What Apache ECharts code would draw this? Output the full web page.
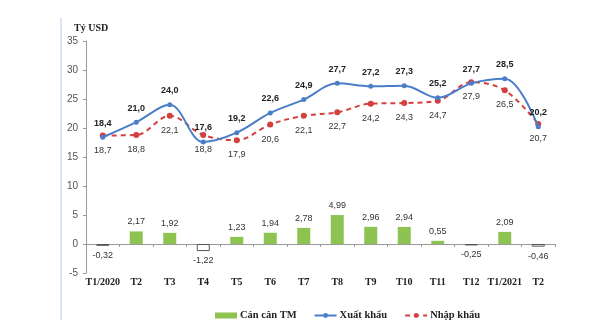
<!DOCTYPE html>
<html><head><meta charset="utf-8">
<script src="https://cdn.jsdelivr.net/npm/echarts@6/dist/echarts.min.js"></script>
<style>html,body{margin:0;padding:0;background:#fff}#c{width:595px;height:334px}</style>
</head><body><div id="c"></div>
<script>
const categories = ["T1/2020","T2","T3","T4","T5","T6","T7","T8","T9","T10","T11","T12","T1/2021","T2"];
const balance = [-0.32, 2.17, 1.92, -1.22, 1.23, 1.94, 2.78, 4.99, 2.96, 2.94, 0.55, -0.25, 2.09, -0.46];
const exportsV = [18.4, 21.0, 24.0, 17.6, 19.2, 22.6, 24.9, 27.7, 27.2, 27.3, 25.2, 27.7, 28.5, 20.2];
const importsV = [18.7, 18.8, 22.1, 18.8, 17.9, 20.6, 22.1, 22.7, 24.2, 24.3, 24.7, 27.9, 26.5, 20.7];
const yTicks = [-5, 0, 5, 10, 15, 20, 25, 30, 35];

const fmt = v => v.toFixed(1).replace('.', ',');
const fmt2 = v => v.toFixed(2).replace('.', ',');
const chart = echarts.init(document.getElementById('c'), null, {renderer:'canvas'});
chart.setOption({
  animation:false,
  backgroundColor:'#fff',
  grid:{left:86, right:40, top:41, bottom:61},
  graphic:[
    {type:'line', shape:{x1:61,y1:18,x2:61,y2:320}, style:{stroke:'#b8cce4', lineWidth:1}},
    {type:'text', left:74, top:23, style:{text:'Tỷ USD', font:'bold 10px "Liberation Serif"', fill:'#222'}}
  ],
  legend:{
    top:305, left:210, itemGap:17, itemWidth:22, itemHeight:6,
    textStyle:{fontFamily:'Liberation Serif', fontWeight:'bold', fontSize:10.5, color:'#222', padding:[0,0,0,-2]},
    data:[{name:'Cán cân TM', icon:'rect'},{name:'Xuất khẩu'},{name:'Nhập khẩu'}]
  },
  xAxis:{
    type:'category', data:categories,
    axisLine:{onZero:true, lineStyle:{color:'#999'}},
    axisTick:{show:true, length:3, lineStyle:{color:'#999'}},
    axisLabel:{margin:4, fontFamily:'Liberation Serif', fontWeight:'bold', fontSize:10, color:'#222', interval:0}
  },
  yAxis:{
    type:'value', min:-5, max:35, interval:5,
    splitLine:{show:false},
    axisLine:{show:true, lineStyle:{color:'#999'}},
    axisTick:{show:true, length:3, lineStyle:{color:'#999'}},
    axisLabel:{fontFamily:'Liberation Sans', fontSize:10, color:'#555', margin:8,
      formatter: v => yTicks.includes(v) ? String(v) : ''}
  },
  series:[
    {name:'Cán cân TM', type:'bar', barWidth:13,
      data: balance.map(v => v < 0
        ? {value:v, itemStyle:{color:'#fff', borderColor:'#555', borderWidth:1}, label:{position:'bottom'}}
        : {value:v}),
      itemStyle:{color:'#8DC350'},
      label:{show:true, position:'top', distance:5, fontFamily:'Liberation Sans', fontSize:9, color:'#333',
        formatter: p => fmt2(p.value)}
    },
    {name:'Xuất khẩu', type:'line', data:exportsV, smooth:0.35, symbol:'circle', symbolSize:5,
      itemStyle:{color:'#4A7EC9'}, lineStyle:{color:'#4A7EC9', width:2},
      label:{show:true, position:'top', distance:7, fontFamily:'Liberation Sans', fontWeight:'bold', fontSize:9, color:'#222',
        formatter: p => fmt(p.value)}, z:4
    },
    {name:'Nhập khẩu', type:'line', data:importsV, smooth:0.35, symbol:'circle', symbolSize:6,
      itemStyle:{color:'#D43F3F'}, lineStyle:{color:'#D43F3F', width:2, type:[5,4]},
      label:{show:true, position:'bottom', distance:7, fontFamily:'Liberation Sans', fontSize:9, color:'#333',
        formatter: p => fmt(p.value)}, z:3
    }
  ]
});
</script></body></html>
